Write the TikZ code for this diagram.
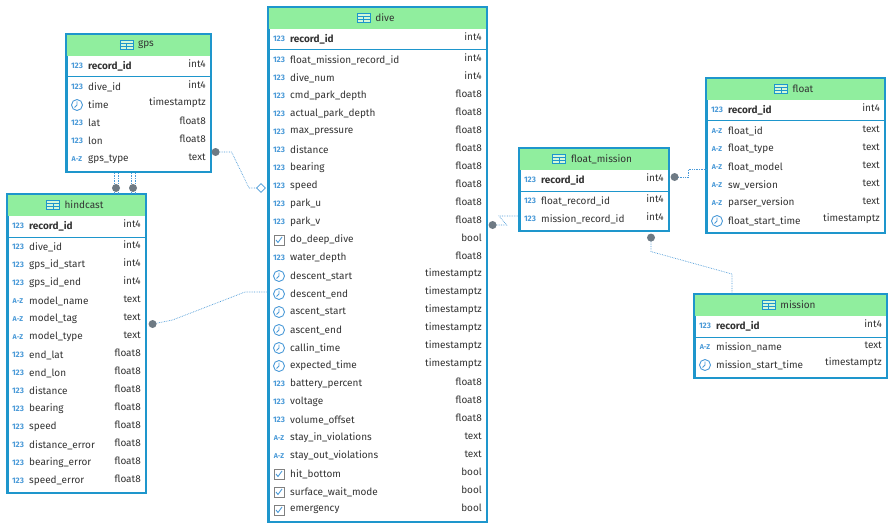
\documentclass[tikz,border=0pt]{standalone}
\usepackage{fontspec}
\setmainfont{Fira Sans}
\usetikzlibrary{arrows.meta,positioning,calc,shapes.geometric}
\definecolor{TblBlue}{HTML}{1E96CC}
\definecolor{HeadGreen}{HTML}{90EE9E}
\definecolor{IcoBlue}{HTML}{4A9AD8}
\definecolor{DotGray}{HTML}{6E7A84}
\definecolor{TxtDark}{HTML}{333333}
\tikzset{
  tblframe/.style={draw=TblBlue,line width=1.6pt,inner sep=0pt},
  rowname/.style={anchor=west,inner sep=0pt,text=TxtDark,font=\fontsize{10}{12}\selectfont},
  rowtype/.style={anchor=east,inner sep=0pt,text=TxtDark,font=\fontsize{10}{12}\selectfont},
  icontext/.style={inner sep=0pt,text=IcoBlue,font=\fontsize{8}{9}\selectfont\bfseries},
  conn/.style={densely dotted,draw=IcoBlue,line width=0.7pt},
  enddot/.style={circle,fill=DotGray,inner sep=0pt,minimum size=8pt}
}
% row icons
\newcommand{\icn}[2]{\node[icontext] at (#1,#2) {123};}
\newcommand{\ica}[2]{\node[icontext,font=\fontsize{7}{8}\selectfont\bfseries] at (#1,#2) {A-Z};}
\newcommand{\icc}[2]{\draw[IcoBlue,line width=0.9pt] (#1,#2) circle (5.5)
  (#1,#2) -- ++(0,-3.5) (#1,#2) -- ++(-2.5,2.5);}
\newcommand{\icb}[2]{\draw[gray,line width=0.6pt] (#1-5,#2-5) rectangle (#1+5,#2+5);
  \draw[IcoBlue,line width=0.9pt] (#1-3,#2) -- (#1-1,#2+2.5) -- (#1+3,#2-3);}
% table: name, title, x, y, width, height, rows
\newcommand{\dbtable}[7]{%
  \node[tblframe,minimum width=#5pt,minimum height=#6pt,anchor=north west] (#1) at (#3,#4) {};
  \fill[HeadGreen] (#3,#4) rectangle ++(#5,22);
  \node[font=\fontsize{10}{12}\selectfont,text=TxtDark,inner sep=0pt] (#1-title) at (#3+#5/2+8,#4+11) {#2};
  \draw[TblBlue,line width=0.7pt,fill=HeadGreen!40] ($(#1-title.west)+(-18,-4.5)$) rectangle ($(#1-title.west)+(-5,4.5)$);
  \draw[TblBlue,line width=0.6pt] ($(#1-title.west)+(-18,-1.5)$) -- ++(13,0)
    ($(#1-title.west)+(-18,1.5)$) -- ++(13,0) ($(#1-title.west)+(-11.5,-1.5)$) -- ++(0,6);
  \draw[TblBlue,line width=1pt] (#3,#4+43) -- ++(#5,0);
  \foreach \k/\n/\t [count=\i] in {#7} {
    \pgfmathsetmacro\yy{\i==1 ? #4+32 : #4+53+(\i-2)*18}
    \csname ic\k\endcsname{#3+11}{\yy}
    \node[rowname] (#1-n\i) at (#3+22,\yy) {\ifnum\i=1 \bfseries\fi\n};
    \node[rowtype] (#1-t\i) at (#3+#5-4,\yy-2) {\t};
  }
  \draw[TblBlue,line width=1.6pt] (#1.north west) rectangle (#1.south east);
}
\begin{document}
\begin{tikzpicture}[x=1pt,y=-1pt]
\useasboundingbox[fill=white] (0,0) rectangle (891,524);
\dbtable{gps}{gps}{66}{34}{144}{137}{n/record\_id/int4,n/dive\_id/int4,c/time/timestamptz,
  n/lat/float8,n/lon/float8,a/gps\_type/text}
\dbtable{hindcast}{hindcast}{7}{194}{138}{298}{n/record\_id/int4,n/dive\_id/int4,
  n/gps\_id\_start/int4,n/gps\_id\_end/int4,a/model\_name/text,a/model\_tag/text,
  a/model\_type/text,n/end\_lat/float8,n/end\_lon/float8,n/distance/float8,
  n/bearing/float8,n/speed/float8,n/distance\_error/float8,n/bearing\_error/float8,
  n/speed\_error/float8}
\dbtable{dive}{dive}{268}{7}{218}{514}{n/record\_id/int4,n/float\_mission\_record\_id/int4,
  n/dive\_num/int4,n/cmd\_park\_depth/float8,n/actual\_park\_depth/float8,
  n/max\_pressure/float8,n/distance/float8,n/bearing/float8,n/speed/float8,
  n/park\_u/float8,n/park\_v/float8,b/do\_deep\_dive/bool,n/water\_depth/float8,
  c/descent\_start/timestamptz,c/descent\_end/timestamptz,c/ascent\_start/timestamptz,
  c/ascent\_end/timestamptz,c/callin\_time/timestamptz,c/expected\_time/timestamptz,
  n/battery\_percent/float8,n/voltage/float8,n/volume\_offset/float8,
  a/stay\_in\_violations/text,a/stay\_out\_violations/text,b/hit\_bottom/bool,
  b/surface\_wait\_mode/bool,b/emergency/bool}
\dbtable{fmission}{float\_mission}{519}{148}{149}{82}{n/record\_id/int4,
  n/float\_record\_id/int4,n/mission\_record\_id/int4}
\dbtable{float}{float}{706}{78}{178}{154}{n/record\_id/int4,a/float\_id/text,
  a/float\_type/text,a/float\_model/text,a/sw\_version/text,a/parser\_version/text,
  c/float\_start\_time/timestamptz}
\dbtable{mission}{mission}{694}{294}{192}{83}{n/record\_id/int4,
  a/mission\_name/text,c/mission\_start\_time/timestamptz}
% relations
\coordinate (gpsR) at ($(gps.north east)+(4,118)$);
\coordinate (diveL1) at ($(dive.north west)+(-7,181)$);
\draw[conn] (gpsR) -- ++(16,0) -- ($(diveL1)+(-12,0)$) -- (diveL1);
\node[enddot] (gpsdot) at (gpsR) {};
\node[diamond,draw=IcoBlue,fill=white,line width=0.7pt,inner sep=0pt,minimum size=9pt] (divedia) at (diveL1) {};
\foreach \dx/\dy in {107/48,111/52,124/65,128/69}{
  \draw[conn] ($(hindcast.north west)+(\dx,0)$) -- ($(gps.south west)+(\dy,0)$);
}
\node[enddot] (hcdot1) at ($(hindcast.north west)+(109,-6)$) {};
\node[enddot] (hcdot2) at ($(hindcast.north west)+(126,-6)$) {};
\coordinate (hcR) at ($(hindcast.north east)+(6,130)$);
\coordinate (diveL2) at ($(dive.north west)+(0,285)$);
\draw[conn] (hcR) -- ++(20,-4) -- ($(diveL2)+(-23,0)$) -- (diveL2);
\node[enddot] (hcdot3) at (hcR) {};
\coordinate (diveR) at ($(dive.north east)+(5,218)$);
\coordinate (fmL) at ($(fmission.north west)+(0,68)$);
\draw[conn] (diveR) -- ++(14,0) -- ($(fmL)+(-20,0)$) -- (fmL);
\node[enddot] (divedot) at (diveR) {};
\coordinate (fmR) at ($(fmission.north east)+(5,29)$);
\coordinate (floatL) at ($(float.north west)+(0,91)$);
\draw[conn] (fmR) -- ++(14,0) |- (floatL);
\node[enddot] (fmdot1) at (fmR) {};
\coordinate (fmB) at ($(fmission.south west)+(132,6)$);
\coordinate (misT) at ($(mission.north west)+(38,0)$);
\draw[conn] (fmB) -- ++(0,14) -- ($(misT)+(0,-20)$) -- (misT);
\node[enddot] (fmdot2) at (fmB) {};
\end{tikzpicture}
\end{document}
